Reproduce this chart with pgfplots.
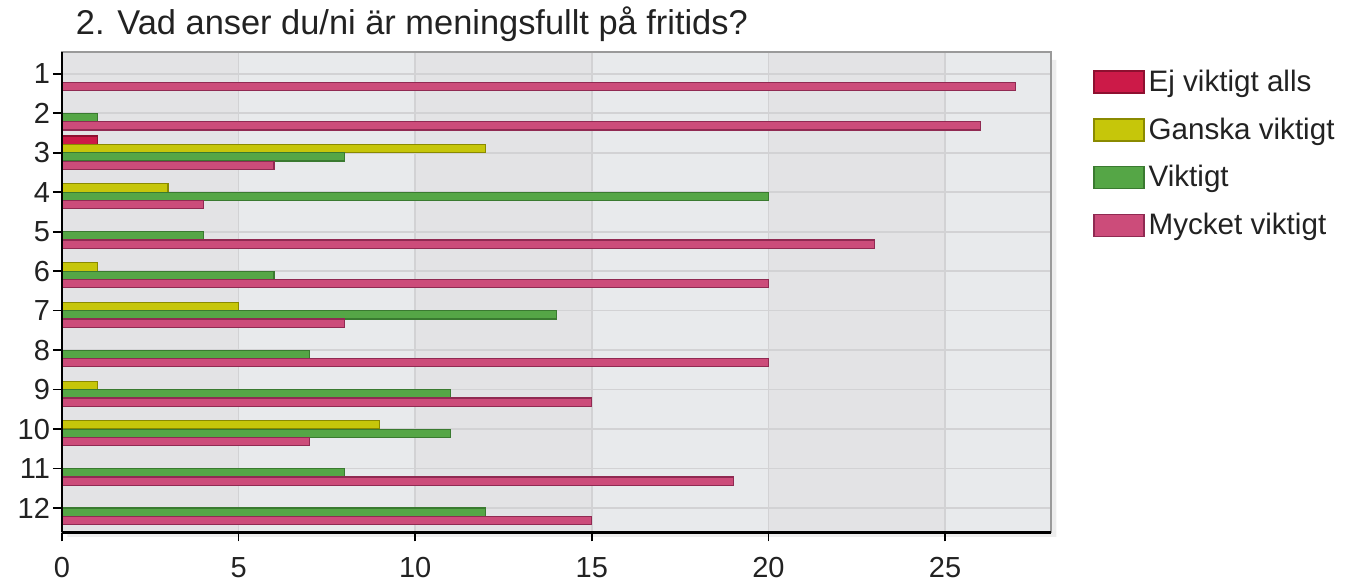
\documentclass[border=0pt]{standalone}
\usepackage{pgfplots}
\pgfplotsset{compat=1.18}
\usepackage{fontspec}
\setmainfont{Liberation Sans}
\definecolor{txt}{HTML}{222222}
\definecolor{gridc}{HTML}{D2D2D4}
\definecolor{banda}{HTML}{E3E3E5}
\definecolor{bandb}{HTML}{E8EAEC}
\definecolor{frame}{HTML}{9A9A9A}
\definecolor{shad}{HTML}{EDEDED}
\definecolor{ejF}{HTML}{CC1A48}\definecolor{ejD}{HTML}{8E1030}
\definecolor{gaF}{HTML}{C6C60A}\definecolor{gaD}{HTML}{8A8A00}
\definecolor{viF}{HTML}{55A646}\definecolor{viD}{HTML}{3A7A30}
\definecolor{myF}{HTML}{CC4C7A}\definecolor{myD}{HTML}{902A52}
\pgfplotsset{boxleg/.style={legend image code/.code={\draw[##1] (0pt,-5.5pt) rectangle (25pt,5.5pt);}}}
\begin{document}
\begin{tikzpicture}
\node[anchor=base west, inner sep=0pt, text=txt, font=\fontsize{17.2}{20}\selectfont] at (6.8pt,249pt) {2. Vad anser du/ni är meningsfullt på fritids?};
\begin{axis}[
  at={(0,0)}, anchor=south west,
  scale only axis, width=494.5pt, height=240pt,
  set layers, clip=false,
  bar width=0.21,
  xmin=0, xmax=28, ymin=0.38, ymax=12.54,
  xtick={0,5,...,25}, ytick={1,...,12},
  yticklabels={12,11,10,9,8,7,6,5,4,3,2,1},
  xtick pos=bottom, ytick pos=left,
  tick align=outside, major tick length=4.5pt,
  tick style={black, line width=0.8pt},
  xmajorgrids, ymajorgrids,
  grid style={gridc, line width=0.8pt},
  axis line style={frame, line width=1pt},
  ticklabel style={text=txt, font=\fontsize{14.5}{16}\selectfont},
  /pgf/number format/assume math mode=true,
  xticklabel style={yshift=-4.5pt},
  yticklabel style={xshift=2pt},
  legend cell align=left,
  legend style={at={(1.0425,0.973)}, anchor=north west, draw=none, fill=none,
    inner sep=0pt, row sep=7.7pt, text=txt, font=\fontsize{14.8}{17}\selectfont,
    nodes={inner xsep=2pt}},
]
\addplot[on layer=axis background, fill=shad, draw=none, forget plot]
  coordinates {(0.15,0.27) (28.15,0.27) (28.15,12.35) (28,12.35) (28,0.38) (0.15,0.38) (0.15,0.27)};
\addplot[on layer=axis background, fill=banda, draw=none, forget plot]
  coordinates {(0,0.38) (5,0.38) (5,12.54) (0,12.54) (0,0.38)};
\addplot[on layer=axis background, fill=bandb, draw=none, forget plot]
  coordinates {(5,0.38) (10,0.38) (10,12.54) (5,12.54) (5,0.38)};
\addplot[on layer=axis background, fill=banda, draw=none, forget plot]
  coordinates {(10,0.38) (15,0.38) (15,12.54) (10,12.54) (10,0.38)};
\addplot[on layer=axis background, fill=bandb, draw=none, forget plot]
  coordinates {(15,0.38) (20,0.38) (20,12.54) (15,12.54) (15,0.38)};
\addplot[on layer=axis background, fill=banda, draw=none, forget plot]
  coordinates {(20,0.38) (25,0.38) (25,12.54) (20,12.54) (20,0.38)};
\addplot[on layer=axis background, fill=bandb, draw=none, forget plot]
  coordinates {(25,0.38) (28,0.38) (28,12.54) (25,12.54) (25,0.38)};
\addplot[xbar, bar shift=0.317, draw=ejD, line width=0.6pt, fill=ejF, boxleg]
  coordinates {(1,10)};
\addlegendentry{Ej viktigt alls}
\addplot[xbar, bar shift=0.106, draw=gaD, line width=0.6pt, fill=gaF, boxleg]
  coordinates {(12,10) (3,9) (1,7) (5,6) (1,4) (9,3)};
\addlegendentry{Ganska viktigt}
\addplot[xbar, bar shift=-0.106, draw=viD, line width=0.6pt, fill=viF, boxleg]
  coordinates {(1,11) (8,10) (20,9) (4,8) (6,7) (14,6) (7,5) (11,4) (11,3) (8,2) (12,1)};
\addlegendentry{Viktigt}
\addplot[xbar, bar shift=-0.317, draw=myD, line width=0.6pt, fill=myF, boxleg]
  coordinates {(27,12) (26,11) (6,10) (4,9) (23,8) (20,7) (8,6) (20,5) (15,4) (7,3) (19,2) (15,1)};
\addlegendentry{Mycket viktigt}
\draw[black, line width=1.3pt] (axis cs:0,0.38) -- (axis cs:0,12.54);
\draw[black, line width=1.3pt] (axis cs:0,0.38) -- (axis cs:28,0.38);
\end{axis}
\pgfresetboundingbox
\path[use as bounding box] (-31pt,-24.75pt) rectangle (644pt,266.25pt);
\end{tikzpicture}
\end{document}
